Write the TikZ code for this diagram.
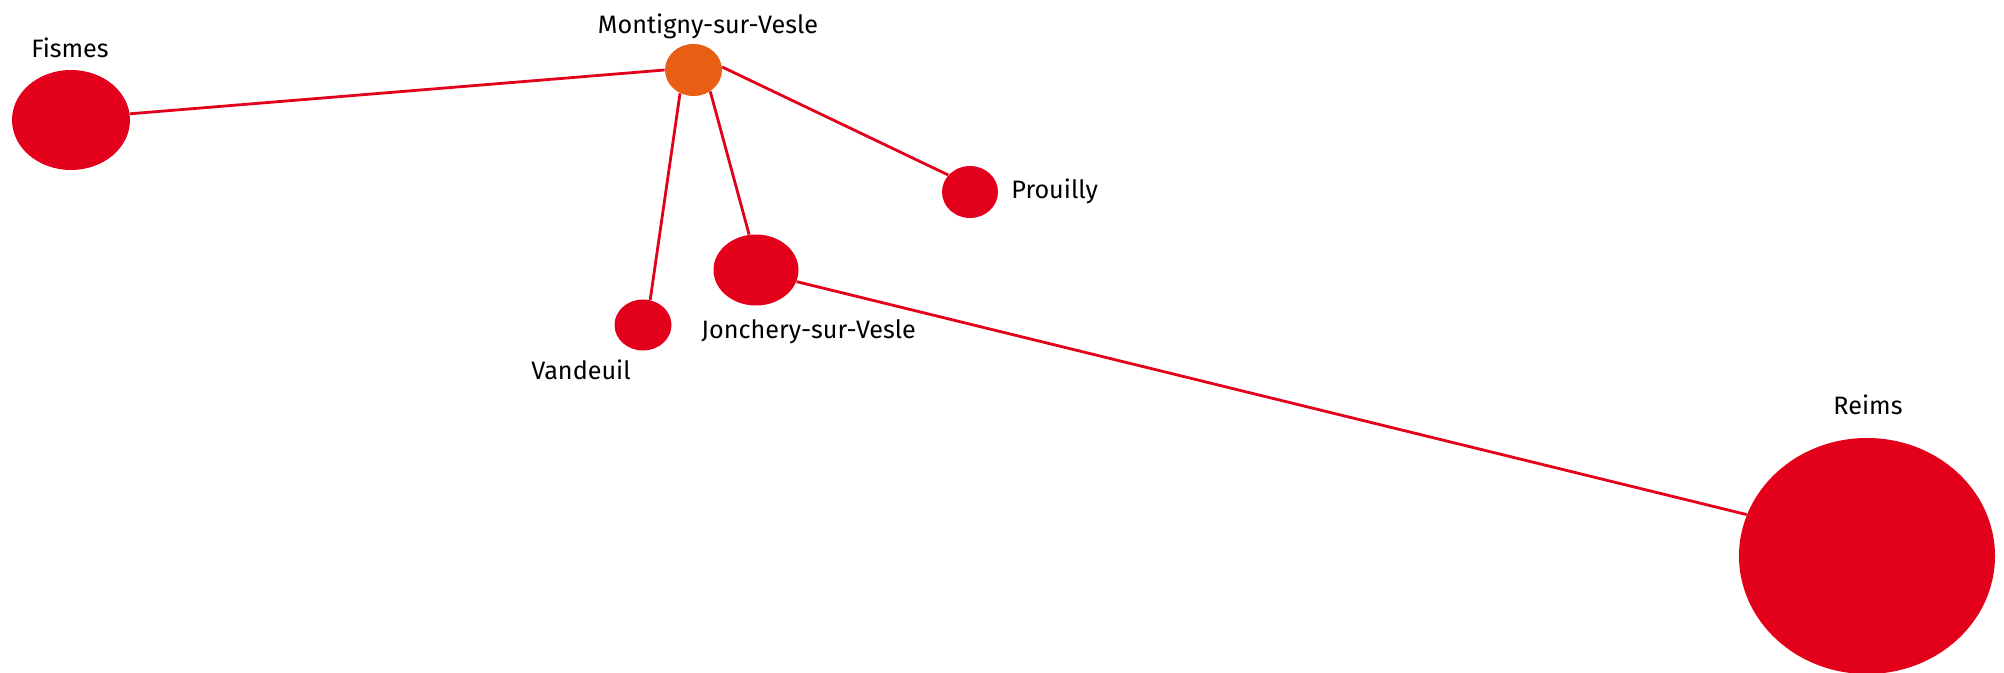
\documentclass[tikz,border=0pt]{standalone}
\usepackage{fontspec}
\setmainfont{Fira Sans}
\usetikzlibrary{shapes.geometric}
\definecolor{cred}{HTML}{E2001A}
\definecolor{corange}{HTML}{E85E12}
\begin{document}
\begin{tikzpicture}[x=0.5pt,y=-0.5pt,
  town/.style={ellipse,fill=cred,draw=none,inner sep=0pt},
  hub/.style={ellipse,fill=corange,draw=none,inner sep=0pt},
  lbl/.style={font=\fontsize{12.6}{15}\selectfont,inner sep=0pt,text=black},
  link/.style={draw=cred,line width=1.4pt}]
\useasboundingbox (0,0) rectangle (2004,673);
\node[town,minimum width=59pt,minimum height=50pt] (fismes) at (71,120) {};
\node[hub,minimum width=28.5pt,minimum height=26pt] (mont) at (693.5,70) {};
\node[town,minimum width=28pt,minimum height=26pt] (prou) at (970,192) {};
\node[town,minimum width=42.5pt,minimum height=35.5pt] (jonch) at (756,270) {};
\node[town,minimum width=28.5pt,minimum height=25.5pt] (vand) at (643,325) {};
\node[town,minimum width=128pt,minimum height=118pt] (reims) at (1867,556) {};
\draw[link] (fismes.6) -- (mont.180);
\draw[link] (mont.240) -- (vand.74);
\draw[link] (mont.308) -- (jonch.101);
\draw[link] (mont.6) -- (prou.142);
\draw[link] (jonch.344) -- (reims.161);
\node[lbl] (lfismes) at (70,48) {Fismes};
\node[lbl] (lmont) at (708,26) {Montigny-sur-Vesle};
\node[lbl,anchor=west] (lprou) at (1011,191) {Prouilly};
\node[lbl,anchor=west] (ljonch) at (701,332) {Jonchery-sur-Vesle};
\node[lbl] (lvand) at (581,370) {Vandeuil};
\node[lbl] (lreims) at (1868,405) {Reims};
\end{tikzpicture}
\end{document}
